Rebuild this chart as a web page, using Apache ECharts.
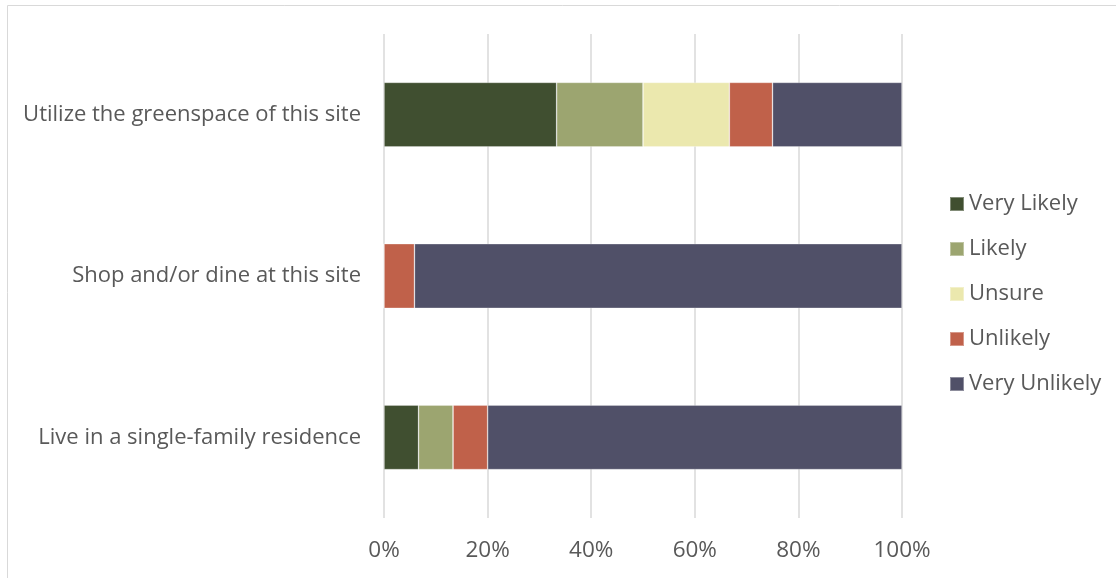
<!DOCTYPE html>
<html>
<head>
<meta charset="utf-8">
<script src="https://cdn.jsdelivr.net/npm/echarts@6/dist/echarts.min.js"></script>
<style>html,body{margin:0;padding:0;background:#fff;}#c{width:1116px;height:578px;}</style>
</head>
<body>
<div id="c"></div>
<script>
const categories = ["Live in a single-family residence", "Shop and/or dine at this site", "Utilize the greenspace of this site"];
const seriesNames = ["Very Likely", "Likely", "Unsure", "Unlikely", "Very Unlikely"];
const veryLikely = [6.67, 0, 33.33];
const likely = [6.67, 0, 16.67];
const unsure = [0, 0, 16.67];
const unlikely = [6.67, 5.88, 8.33];
const veryUnlikely = [80, 94.12, 25];
const colors = ["#404F30", "#9CA570", "#EBE8AE", "#C0614A", "#505068"];
const values = [veryLikely, likely, unsure, unlikely, veryUnlikely];
const font = "'Open Sans', 'Noto Sans', sans-serif";

const chart = echarts.init(document.getElementById('c'));
chart.setOption({
  animation: false,
  textStyle: {fontFamily: font},
  graphic: [{type: 'rect', shape: {x: 7.5, y: 5.5, width: 1300, height: 800}, style: {fill: 'none', stroke: '#d9d9d9', lineWidth: 1}, silent: true, z: -10}],
  grid: {left: 384, right: 214, top: 34, bottom: 60},
  legend: {
    orient: 'vertical', left: 944, top: 188, itemWidth: 14, itemHeight: 14, itemGap: 23,
    icon: 'rect', textStyle: {fontSize: 22, color: '#595959', fontFamily: font},
    data: seriesNames
  },
  xAxis: {
    type: 'value', min: 0, max: 100, interval: 20,
    axisLine: {show: false}, axisTick: {show: false},
    splitLine: {show: true, lineStyle: {color: '#d9d9d9', width: 1.5}},
    axisLabel: {formatter: '{value}%', fontSize: 22.5, color: '#595959', margin: 21, fontFamily: font}
  },
  yAxis: {
    type: 'category', data: categories,
    axisLine: {show: false}, axisTick: {show: false},
    axisLabel: {fontSize: 22, color: '#595959', margin: 23, fontFamily: font}
  },
  series: seriesNames.map((n, i) => ({
    name: n, type: 'bar', stack: 'total', barWidth: '40%',
    itemStyle: {color: colors[i], borderColor: 'rgba(255,255,255,0.35)', borderWidth: 0.75},
    data: values[i]
  }))
});
</script>
</body>
</html>
